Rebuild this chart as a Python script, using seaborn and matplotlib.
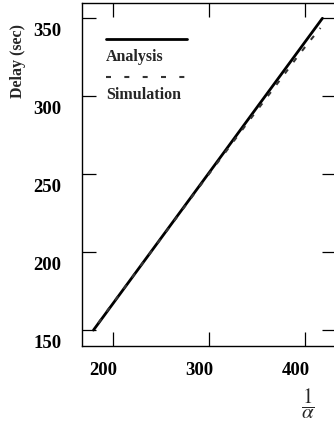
import numpy as np
import pandas as pd
import matplotlib
matplotlib.use("Agg")
import matplotlib.pyplot as plt
import matplotlib.transforms as mtransforms
from matplotlib.lines import Line2D
import seaborn as sns

# ---- data ----
analysis_x = [180, 250, 300, 350, 418]
analysis_y = [150.0, 208.8, 250.8, 292.9, 350.0]

sim_x = [185, 195, 205, 217, 229, 241, 253, 265, 277, 289, 296,
         307, 319, 331, 343, 355, 367, 379, 391, 403, 416]
sim_y = [154.5, 163.0, 171.2, 181.2, 191.2, 201.1, 211.0, 221.0, 231.0, 241.0, 246.8,
         255.8, 265.6, 275.5, 285.3, 295.0, 304.8, 314.6, 324.5, 334.0, 343.8]

x_ticks = [200, 300, 400]
x_tick_labels = ["200", "300", "400"]
y_ticks = [150, 200, 250, 300, 350]
y_tick_labels = ["150", "200", "250", "300", "350"]

legend_labels = ["Analysis", "Simulation"]
y_label = "Delay (sec)"
x_label = r"$\dfrac{1}{\alpha}$"

# ---- style ----
sns.set_style("ticks")
plt.rcParams["font.family"] = ["Liberation Serif", "DejaVu Serif"]
plt.rcParams["mathtext.fontset"] = "stix"

W, H, DPI = 334, 425, 100
fig = plt.figure(figsize=(W / DPI, H / DPI), dpi=DPI)
left, bottom = 82.3 / W, (H - 345.7) / H
right, top = 335.5 / W, (H - 2.7) / H
ax = fig.add_axes([left, bottom, right - left, top - bottom])

df_a = pd.DataFrame({"x": analysis_x, "y": analysis_y})
df_s = pd.DataFrame({"x": sim_x, "y": sim_y})

sns.lineplot(data=df_a, x="x", y="y", ax=ax, color="black", lw=2.0,
             estimator=None, sort=False, legend=False)
sns.lineplot(data=df_s, x="x", y="y", ax=ax, color="#333333", lw=1.5,
             estimator=None, sort=False, legend=False,
             dashes=False)
ax.lines[-1].set_dashes((2.4, 4.4))

ax.set_xlim(168.4, 431.6)
ax.set_ylim(140, 360)
ax.set_xlabel("")
ax.set_ylabel("")

ax.set_xticks(x_ticks)
ax.set_xticklabels(x_tick_labels)
ax.set_yticks(y_ticks)
ax.set_yticklabels(y_tick_labels)

for s in ax.spines.values():
    s.set_linewidth(1.0)
    s.set_color("black")

ax.tick_params(direction="in", length=9.8, width=0.9, top=True, right=True,
               colors="black", labelsize=13.5)
ax.tick_params(axis="y", pad=15.0)
ax.tick_params(axis="x", pad=12.0)

for lab in ax.get_yticklabels():
    lab.set_fontweight("bold")
    lab.set_transform(lab.get_transform() +
                      mtransforms.ScaledTranslation(0, -11 / DPI, fig.dpi_scale_trans))
for lab in ax.get_xticklabels():
    lab.set_fontweight("bold")
    lab.set_transform(lab.get_transform() +
                      mtransforms.ScaledTranslation(-9.5 / DPI, 0, fig.dpi_scale_trans))

# ---- legend (handles above labels) ----
def fx(px):
    return px / W
def fy(py):
    return (H - py) / H

fig.add_artist(Line2D([fx(106), fx(187)], [fy(39.3), fy(39.3)], color="black", lw=2.0))
fig.add_artist(Line2D([fx(106), fx(187)], [fy(77.3), fy(77.3)], color="#333333", lw=1.5,
                      dashes=(2.4, 6.4)))
fig.text(fx(106), fy(56.7), legend_labels[0], fontsize=11.5, fontweight="bold",
         ha="left", va="center")
fig.text(fx(106), fy(95.0), legend_labels[1], fontsize=11.5, fontweight="bold",
         ha="left", va="center")

# ---- axis labels ----
fig.text(fx(18), fy(61), y_label, rotation=90, fontsize=11.5, fontweight="bold",
         ha="center", va="center")
fig.text(fx(308), fy(404), x_label, fontsize=15, ha="center", va="center")

fig.savefig("out.png", dpi=DPI)
